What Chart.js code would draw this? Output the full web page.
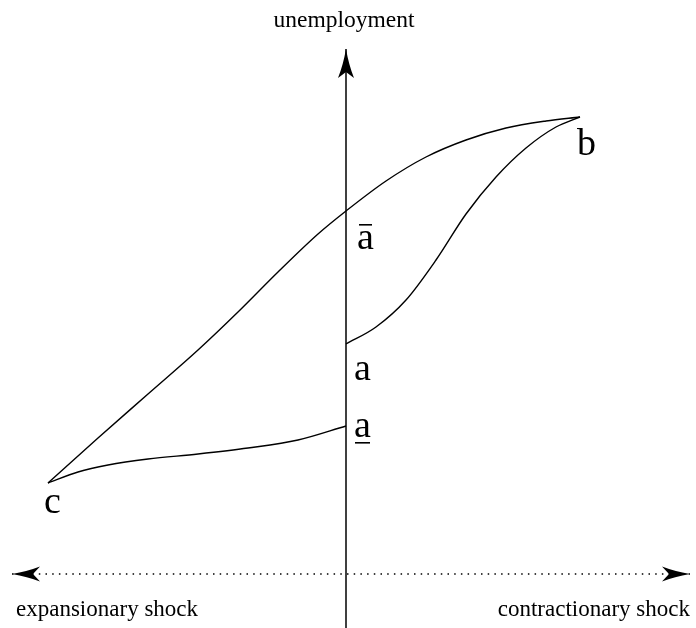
<!DOCTYPE html>
<html>
<head>
<meta charset="utf-8">
<script src="https://cdn.jsdelivr.net/npm/chart.js@4/dist/chart.umd.min.js"></script>
<style>
html,body{margin:0;padding:0;background:#fff;}
#wrap{width:696px;height:628px;}
</style>
</head>
<body>
<div id="wrap"><canvas id="c" width="696" height="628"></canvas></div>
<script>
// Curve data (abstract units; x: shock, y: unemployment)
const upperX = [-2.98, -2.48, -1.98, -1.48, -1.08, -0.68, -0.28, 0.00, 0.40, 0.80, 1.20, 1.60, 2.00, 2.34];
const upperY = [ 1.45,  1.90,  2.34,  2.78,  3.16,  3.56,  3.94, 4.17, 4.47, 4.71, 4.88, 5.00, 5.07, 5.11];
const rightX = [0.00, 0.30, 0.60, 0.90, 1.20, 1.50, 1.80, 2.10, 2.34];
const rightY = [2.84, 3.01, 3.28, 3.68, 4.14, 4.51, 4.80, 5.01, 5.11];
const lowerX = [-2.98, -2.68, -2.38, -1.98, -1.48, -0.98, -0.48, 0.00];
const lowerY = [ 1.45,  1.56,  1.63,  1.69,  1.74,  1.80,  1.88, 2.02];
// Axes
const vAxisX = [0, 0];
const vAxisY = [0, 5.79];
const hAxisX = [-3.34, 3.44];
const hAxisY = [0.54, 0.54];
// Point labels
const pointLabels = ['\u0101', 'a', 'a\u0332', 'b', 'c'];
const pointLabelX = [0.00, 0.00, 0.00, 2.34, -2.98];
const pointLabelY = [4.17, 2.84, 2.02, 5.11, 1.45];
const axisTitles = ['unemployment', 'expansionary shock', 'contractionary shock'];

const toPts = (xs, ys) => xs.map((x, i) => ({x, y: ys[i]}));

const FONT = '"Liberation Serif", "DejaVu Serif", serif';

function stealth(ctx, tx, ty, dir, len, half, notch) {
  const [dx, dy] = dir;
  const nx = -dy, ny = dx;
  const bx = tx - dx * len, by = ty - dy * len;
  const mx = tx - dx * (len - notch), my = ty - dy * (len - notch);
  ctx.beginPath();
  ctx.moveTo(tx, ty);
  ctx.quadraticCurveTo(tx - dx * len * 0.55 + nx * half * 0.35, ty - dy * len * 0.55 + ny * half * 0.35, bx + nx * half, by + ny * half);
  ctx.lineTo(mx, my);
  ctx.lineTo(bx - nx * half, by - ny * half);
  ctx.quadraticCurveTo(tx - dx * len * 0.55 - nx * half * 0.35, ty - dy * len * 0.55 - ny * half * 0.35, tx, ty);
  ctx.closePath();
  ctx.fill();
}

const decor = {
  id: 'decor',
  afterDatasetsDraw(chart) {
    const {ctx, scales: {x, y}} = chart;
    ctx.save();
    ctx.fillStyle = '#000';
    stealth(ctx, x.getPixelForValue(vAxisX[1]), y.getPixelForValue(vAxisY[1]), [0, -1], 29, 8, 6);
    stealth(ctx, x.getPixelForValue(hAxisX[0]), y.getPixelForValue(hAxisY[0]), [-1, 0], 28, 7.5, 7);
    stealth(ctx, x.getPixelForValue(hAxisX[1]), y.getPixelForValue(hAxisY[1]), [1, 0], 28, 7.5, 7);

    ctx.textBaseline = 'alphabetic';
    ctx.font = '23.5px ' + FONT;
    ctx.textAlign = 'center';
    ctx.fillText(axisTitles[0], x.getPixelForValue(vAxisX[1]) - 2, 27);
    ctx.font = '23px ' + FONT;
    ctx.textAlign = 'left';
    const hy = y.getPixelForValue(hAxisY[0]);
    ctx.fillText(axisTitles[1], 16, hy + 42);
    ctx.textAlign = 'right';
    ctx.fillText(axisTitles[2], 690, hy + 42);

    ctx.font = '38px ' + FONT;
    const offs = [[11, 38], [8, 36], [8, 11], [-3, 38], [-4, 30]];
    pointLabels.forEach((t, i) => {
      const px = x.getPixelForValue(pointLabelX[i]);
      const py = y.getPixelForValue(pointLabelY[i]);
      const tx = px + offs[i][0], ty = py + offs[i][1];
      ctx.textAlign = 'left';
      if (i === 0) {
        ctx.fillText('a', tx, ty);
        ctx.fillRect(tx + 2, ty - 25, 13, 1.6);
      } else if (i === 2) {
        ctx.fillText('a', tx, ty);
        ctx.fillRect(tx + 1, ty + 5, 15, 1.6);
      } else {
        ctx.fillText(t, tx, ty);
      }
    });
    ctx.restore();
  }
};

const lineDs = (data, extra) => Object.assign({
  data, showLine: true, borderColor: '#000', borderWidth: 1.4,
  pointRadius: 0, fill: false, cubicInterpolationMode: 'monotone'
}, extra || {});

new Chart(document.getElementById('c'), {
  type: 'scatter',
  data: {
    datasets: [
      lineDs(toPts(upperX, upperY)),
      lineDs(toPts(rightX, rightY)),
      lineDs(toPts(lowerX, lowerY)),
      lineDs(toPts(vAxisX, vAxisY), {borderWidth: 1.5, cubicInterpolationMode: 'default', tension: 0}),
      lineDs(toPts(hAxisX, hAxisY), {borderWidth: 1.6, borderDash: [1.5, 5.2], cubicInterpolationMode: 'default', tension: 0})
    ]
  },
  options: {
    responsive: false,
    animation: false,
    layout: {padding: 0},
    plugins: {legend: {display: false}, tooltip: {enabled: false}},
    scales: {
      x: {type: 'linear', display: false, min: -3.46, max: 3.50},
      y: {type: 'linear', display: false, min: 0, max: 6.28}
    }
  },
  plugins: [decor]
});
</script>
</body>
</html>
